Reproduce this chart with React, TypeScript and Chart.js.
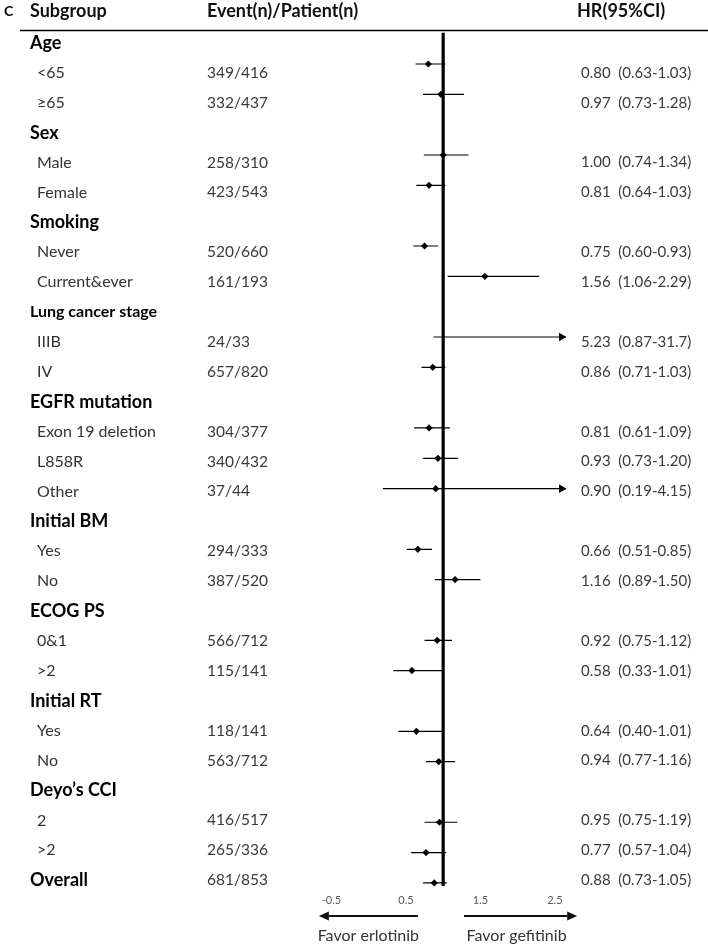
import React, { useEffect, useRef } from "react";
import { Chart, registerables } from "chart.js";

Chart.register(...registerables);

const FONT = "Lato, 'Open Sans', sans-serif";

const headers = ["Subgroup", "Event(n)/Patient(n)", "HR(95%CI)"];
const panelLabel = "C";

const subgroups = [
  "Age", "<65", "≥65",
  "Sex", "Male", "Female",
  "Smoking", "Never", "Current&ever",
  "Lung cancer stage", "IIIB", "IV",
  "EGFR mutation", "Exon 19 deletion", "L858R", "Other",
  "Initial BM", "Yes", "No",
  "ECOG PS", "0&1", ">2",
  "Initial RT", "Yes", "No",
  "Deyo’s CCI", "2", ">2",
  "Overall",
];

const groupHeaders = ["Age", "Sex", "Smoking", "Lung cancer stage", "EGFR mutation", "Initial BM", "ECOG PS", "Initial RT", "Deyo’s CCI", "Overall"];

const events = [
  null, "349/416", "332/437",
  null, "258/310", "423/543",
  null, "520/660", "161/193",
  null, "24/33", "657/820",
  null, "304/377", "340/432", "37/44",
  null, "294/333", "387/520",
  null, "566/712", "115/141",
  null, "118/141", "563/712",
  null, "416/517", "265/336",
  "681/853",
];

const hr = [
  null, 0.80, 0.97,
  null, 1.00, 0.81,
  null, 0.75, 1.56,
  null, 5.23, 0.86,
  null, 0.81, 0.93, 0.90,
  null, 0.66, 1.16,
  null, 0.92, 0.58,
  null, 0.64, 0.94,
  null, 0.95, 0.77,
  0.88,
];

const ciLow = [
  null, 0.63, 0.73,
  null, 0.74, 0.64,
  null, 0.60, 1.06,
  null, 0.87, 0.71,
  null, 0.61, 0.73, 0.19,
  null, 0.51, 0.89,
  null, 0.75, 0.33,
  null, 0.40, 0.77,
  null, 0.75, 0.57,
  0.73,
];

const ciHigh = [
  null, 1.03, 1.28,
  null, 1.34, 1.03,
  null, 0.93, 2.29,
  null, 31.7, 1.03,
  null, 1.09, 1.20, 4.15,
  null, 0.85, 1.50,
  null, 1.12, 1.01,
  null, 1.01, 1.16,
  null, 1.19, 1.04,
  1.05,
];

const xTicks = [-0.5, 0.5, 1.5, 2.5];
const favorLabels = ["Favor erlotinib", "Favor gefitinib"];

// axis ranges
const X_MIN = -0.95;
const X_MAX = 2.65;
const REF_VALUE = 1;
const REF_SPAN = [0.97, 29.1];
const FAVOR_LEFT = [0.66, -0.67];
const FAVOR_RIGHT = [1.28, 2.8];

function fmt(v: number) {
  return v >= 10 ? v.toFixed(1) : v.toFixed(2);
}

function drawArrow(ctx: CanvasRenderingContext2D, x1: number, x2: number, y: number) {
  const dir = x2 > x1 ? 1 : -1;
  const head = 10;
  ctx.beginPath();
  ctx.moveTo(x1, y);
  ctx.lineTo(x2 - dir * head, y);
  ctx.lineWidth = 2;
  ctx.strokeStyle = "#111";
  ctx.stroke();
  ctx.beginPath();
  ctx.moveTo(x2, y);
  ctx.lineTo(x2 - dir * head, y - 4.5);
  ctx.lineTo(x2 - dir * head, y + 4.5);
  ctx.closePath();
  ctx.fillStyle = "#111";
  ctx.fill();
}

const textPlugin = {
  id: "forestText",
  afterDraw(chart: any) {
    const ctx: CanvasRenderingContext2D = chart.ctx;
    const ys = chart.scales.yText;
    const xs = chart.scales.x;
    ctx.save();
    ctx.textBaseline = "middle";
    ctx.textAlign = "left";

    const hy = ys.getPixelForValue(0) - 2;
    ctx.fillStyle = "#000";
    ctx.font = `bold 14px ${FONT}`;
    ctx.fillText(panelLabel, 4, hy);
    ctx.font = `bold 18px ${FONT}`;
    ctx.fillStyle = "#111";
    ctx.fillText(headers[0], 30, hy);
    ctx.fillText(headers[1], 207, hy);
    ctx.fillText(headers[2], 577, hy);

    const ry = Math.round(ys.getPixelForValue(0.55)) + 0.5;
    ctx.beginPath();
    ctx.moveTo(20, ry);
    ctx.lineTo(708, ry);
    ctx.lineWidth = 1.3;
    ctx.strokeStyle = "#000";
    ctx.stroke();

    subgroups.forEach((label, k) => {
      const y = ys.getPixelForValue(k + 1);
      const isGroup = groupHeaders.includes(label);
      if (isGroup) {
        const small = label.length > 15;
        ctx.font = `bold ${small ? 16 : 18}px ${FONT}`;
        ctx.fillStyle = "#000";
        ctx.fillText(label, 30, y);
      } else {
        ctx.font = `16px ${FONT}`;
        ctx.fillStyle = "#333";
        ctx.fillText(label, 37, y);
      }
      const ev = events[k];
      if (ev) {
        ctx.font = `15.5px ${FONT}`;
        ctx.fillStyle = "#3a3a3a";
        ctx.fillText(ev, 207, y);
      }
      const h = hr[k];
      const lo = ciLow[k];
      const hi = ciHigh[k];
      if (h != null && lo != null && hi != null) {
        ctx.font = `15px ${FONT}`;
        ctx.fillStyle = "#3a3a3a";
        ctx.fillText(`${fmt(h)}  (${fmt(lo)}-${fmt(hi)})`, 581, y);
      }
    });

    const ay = ys.getPixelForValue(30.2);
    const ly1 = xs.getPixelForValue(FAVOR_LEFT[0]);
    const ly2 = xs.getPixelForValue(FAVOR_LEFT[1]);
    const ry1 = xs.getPixelForValue(FAVOR_RIGHT[0]);
    const ry2 = xs.getPixelForValue(FAVOR_RIGHT[1]);
    drawArrow(ctx, ly1, ly2, ay);
    drawArrow(ctx, ry1, ry2, ay);
    const ty = ys.getPixelForValue(30.87);
    ctx.font = `16px ${FONT}`;
    ctx.fillStyle = "#333";
    ctx.textAlign = "center";
    ctx.fillText(favorLabels[0], (ly1 + ly2) / 2, ty);
    ctx.fillText(favorLabels[1], (ry1 + ry2) / 2 - 4, ty);
    ctx.restore();
  },
};

export default function App() {
  const ref = useRef<HTMLCanvasElement | null>(null);
  useEffect(() => {
    if (!ref.current) return;
    const markers: any[] = [];
    const ciLines: any[] = [];
    const arrows: any[] = [];
    hr.forEach((h, k) => {
      const lo = ciLow[k];
      const hi = ciHigh[k];
      if (h == null || lo == null || hi == null) return;
      const y = k + 1;
      markers.push({ x: h, y });
      ciLines.push({ x: lo, y }, { x: hi, y }, { x: null, y: null });
      if (hi > X_MAX) arrows.push({ x: X_MAX - 0.06, y });
    });
    const chart = new Chart(ref.current, {
      type: "scatter",
      data: {
        datasets: [
          {
            data: markers,
            pointStyle: "rectRot",
            pointRadius: 3.6,
            backgroundColor: "#000",
            borderColor: "#000",
            borderWidth: 0,
            showLine: false,
          },
          {
            data: arrows,
            pointStyle: "triangle",
            rotation: 90,
            pointRadius: 5,
            backgroundColor: "#000",
            borderColor: "#000",
            borderWidth: 0,
            showLine: false,
            clip: false,
          },
          {
            data: ciLines,
            showLine: true,
            spanGaps: false,
            borderColor: "#000",
            borderWidth: 1.2,
            pointRadius: 0,
          },
          {
            data: [
              { x: REF_VALUE, y: REF_SPAN[0] },
              { x: REF_VALUE, y: REF_SPAN[1] },
            ],
            showLine: true,
            borderColor: "#000",
            borderWidth: 3.2,
            pointRadius: 0,
          },
        ],
      },
      options: {
        responsive: false,
        devicePixelRatio: 1,
        animation: false,
        events: [],
        layout: { padding: { top: 20, bottom: 25, left: 298, right: 142 } },
        plugins: { legend: { display: false }, tooltip: { enabled: false } },
        scales: {
          x: {
            type: "linear",
            min: X_MIN,
            max: X_MAX,
            grid: { display: false, drawTicks: false },
            border: { display: false },
            afterBuildTicks: (s: any) => {
              s.ticks = xTicks.map((v) => ({ value: v }));
            },
            afterFit: (s: any) => {
              s.height = 30;
            },
            ticks: {
              padding: 2,
              autoSkip: false,
              maxRotation: 0,
              color: "#595959",
              font: { family: FONT, size: 11 },
              callback: (v: any) => String(v),
            },
          },
          y: {
            type: "linear",
            display: false,
            reverse: true,
            min: 0.5493,
            max: 29.299,
          },
          yText: {
            type: "linear",
            axis: "y",
            display: false,
            reverse: true,
            min: 0.2308,
            max: 29.395,
          },
        },
      } as any,
      plugins: [textPlugin],
    });
    return () => chart.destroy();
  }, []);
  return (
    <div style={{ position: "absolute", left: 0, top: 0, width: 708, height: 947, background: "#fff" }}>
      <canvas ref={ref} width={708} height={947} style={{ display: "block" }} />
    </div>
  );
}
